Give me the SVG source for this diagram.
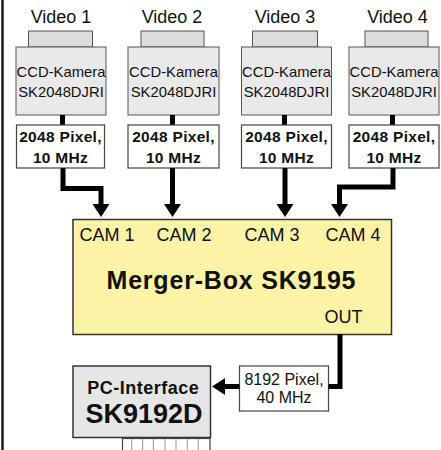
<svg xmlns="http://www.w3.org/2000/svg" width="441" height="450" viewBox="0 0 441 450">
<defs>
<style>
.reg{font-family:"Liberation Sans",Arial,sans-serif;fill:#111}
.bold{font-family:"Liberation Sans",Arial,sans-serif;font-weight:bold;fill:#111}
.cam{fill:#E9E9E9;stroke:#555;stroke-width:1}
.plug{fill:#DCDCDC;stroke:#555;stroke-width:1}
.lbl{fill:#fff;stroke:#444;stroke-width:1.2}
.wire{fill:none;stroke:#000;stroke-width:5;stroke-linejoin:miter}
.head{fill:#000}
.vid{font-size:18px}
.ccd{font-size:14.8px}
.px{font-size:15.5px;letter-spacing:0.3px}
.camlbl{font-size:18px}
</style>
</defs>
<rect width="441" height="450" fill="#fff"/>
<line x1="2.5" y1="0" x2="2.5" y2="450" stroke="#1a1a1a" stroke-width="2.5"/>

<g id="camera1">
<text class="reg vid" x="61" y="22.5" text-anchor="middle">Video 1</text>
<rect class="plug" x="28.5" y="31" width="64" height="16"/>
<rect class="cam" x="16" y="47" width="90" height="68"/>
<text class="reg ccd" x="61" y="76.5" text-anchor="middle">CCD-Kamera</text>
<text class="reg ccd" x="61" y="96.5" text-anchor="middle">SK2048DJRI</text>
<rect x="60" y="115" width="5" height="10" fill="#000"/>
</g>
<g id="label1">
<rect class="lbl" x="16.5" y="125" width="88" height="43"/>
<text class="bold px" x="60.5" y="141.5" text-anchor="middle">2048 Pixel,</text>
<text class="bold px" x="60.5" y="163" text-anchor="middle">10 MHz</text>
</g>

<g id="camera2">
<text class="reg vid" x="172" y="22.5" text-anchor="middle">Video 2</text>
<rect class="plug" x="141" y="31" width="63" height="16"/>
<rect class="cam" x="128" y="47" width="91" height="68"/>
<text class="reg ccd" x="173.5" y="76.5" text-anchor="middle">CCD-Kamera</text>
<text class="reg ccd" x="173.5" y="96.5" text-anchor="middle">SK2048DJRI</text>
<rect x="170" y="115" width="5" height="10" fill="#000"/>
</g>
<g id="label2">
<rect class="lbl" x="128" y="125" width="91" height="43"/>
<text class="bold px" x="173.5" y="141.5" text-anchor="middle">2048 Pixel,</text>
<text class="bold px" x="173.5" y="163" text-anchor="middle">10 MHz</text>
</g>

<g id="camera3">
<text class="reg vid" x="285" y="22.5" text-anchor="middle">Video 3</text>
<rect class="plug" x="252.5" y="31" width="65" height="16"/>
<rect class="cam" x="241.5" y="47" width="90" height="68"/>
<text class="reg ccd" x="286.5" y="76.5" text-anchor="middle">CCD-Kamera</text>
<text class="reg ccd" x="286.5" y="96.5" text-anchor="middle">SK2048DJRI</text>
<rect x="282" y="115" width="5" height="10" fill="#000"/>
</g>
<g id="label3">
<rect class="lbl" x="241.5" y="125" width="90" height="43"/>
<text class="bold px" x="286.5" y="141.5" text-anchor="middle">2048 Pixel,</text>
<text class="bold px" x="286.5" y="163" text-anchor="middle">10 MHz</text>
</g>

<g id="camera4">
<text class="reg vid" x="397.5" y="22.5" text-anchor="middle">Video 4</text>
<rect class="plug" x="365" y="31" width="63" height="16"/>
<rect class="cam" x="349" y="47" width="90" height="68"/>
<text class="reg ccd" x="394" y="76.5" text-anchor="middle">CCD-Kamera</text>
<text class="reg ccd" x="394" y="96.5" text-anchor="middle">SK2048DJRI</text>
<rect x="390" y="115" width="5" height="10" fill="#000"/>
</g>
<g id="label4">
<rect class="lbl" x="349" y="125" width="90" height="43"/>
<text class="bold px" x="394" y="141.5" text-anchor="middle">2048 Pixel,</text>
<text class="bold px" x="394" y="163" text-anchor="middle">10 MHz</text>
</g>

<g id="merger">
<rect x="73" y="219.5" width="318.5" height="115" fill="#FCF3A6" stroke="#333" stroke-width="1.5"/>
<text class="reg camlbl" x="79.5" y="241">CAM 1</text>
<text class="reg camlbl" x="156.5" y="241">CAM 2</text>
<text class="reg camlbl" x="244.5" y="241">CAM 3</text>
<text class="reg camlbl" x="325.5" y="241">CAM 4</text>
<text class="bold" x="106.5" y="288.5" font-size="25" letter-spacing="0.8">Merger-Box SK9195</text>
<text class="reg camlbl" x="324.5" y="323">OUT</text>
</g>

<g id="outlabel">
<rect class="lbl" x="239.5" y="366" width="89" height="45"/>
<text class="reg" x="284" y="385" font-size="16" text-anchor="middle">8192 Pixel,</text>
<text class="reg" x="284" y="402.5" font-size="16" text-anchor="middle">40 MHz</text>
</g>

<g id="pcinterface">
<rect x="73" y="366" width="137.5" height="71.5" fill="#E6E6E6" stroke="#333" stroke-width="1.5"/>
<text class="bold" x="87.3" y="394" font-size="18" letter-spacing="0.5">PC-Interface</text>
<text class="bold" x="85.5" y="423" font-size="27">SK9192D</text>
<rect x="122.5" y="438.5" width="87.5" height="14" fill="#fff" stroke="#444" stroke-width="1.2"/>
<g stroke="#999" stroke-width="1">
<line x1="131.7" y1="439" x2="131.7" y2="450"/>
<line x1="142.7" y1="439" x2="142.7" y2="450"/>
<line x1="153.3" y1="439" x2="153.3" y2="450"/>
<line x1="165" y1="439" x2="165" y2="450"/>
<line x1="176" y1="439" x2="176" y2="450"/>
<line x1="187.3" y1="439" x2="187.3" y2="450"/>
<line x1="198.3" y1="439" x2="198.3" y2="450"/>
</g>
</g>

<g id="connectors">
<path class="wire" d="M63,168 V188.5 H101 V206"/>
<polygon class="head" points="92.5,204 109.5,204 101,217"/>
<path class="wire" d="M172.5,168 V206"/>
<polygon class="head" points="164,204 181,204 172.5,217"/>
<path class="wire" d="M285,168 V206"/>
<polygon class="head" points="276.5,204 293.5,204 285,217"/>
<path class="wire" d="M393,168 V187 H339.5 V206"/>
<polygon class="head" points="331,204 348,204 339.5,217"/>
<path class="wire" d="M340,334 V386.5 H328.5"/>
<path class="wire" d="M239.5,386.5 H223"/>
<polygon class="head" points="225,378 225,395 212,386.5"/>
</g>
</svg>
